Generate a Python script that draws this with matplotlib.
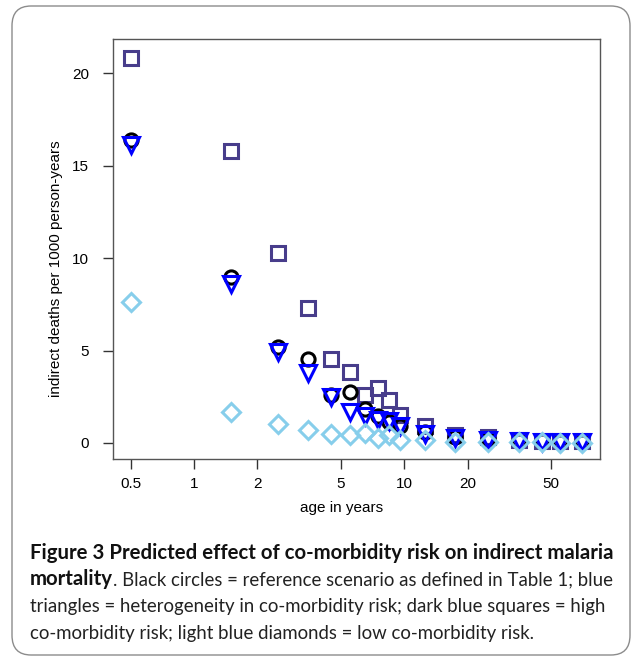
import numpy as np
import matplotlib
matplotlib.use("Agg")
import matplotlib.pyplot as plt
from matplotlib.patches import FancyBboxPatch

# age group midpoints (years)
ages = [0.5, 1.5, 2.5, 3.5, 4.5, 5.5, 6.5, 7.5, 8.5, 9.5, 12.5, 17.5, 25, 35, 45, 55, 70]

# indirect deaths per 1000 person-years
reference = [16.4, 9.0, 5.2, 4.55, 2.6, 2.75, 1.85, 1.45, 1.15, 0.9, 0.6, 0.3, 0.2, 0.1, 0.08, 0.07, 0.06]
heterogeneity = [16.1, 8.6, 4.9, 3.8, 2.5, 1.65, 1.45, 1.25, 1.2, 0.9, 0.5, 0.25, 0.15, 0.09, 0.07, 0.06, 0.05]
high_risk = [20.8, 15.8, 10.3, 7.3, 4.55, 3.85, 2.6, 3.0, 2.35, 1.5, 0.9, 0.42, 0.3, 0.15, 0.12, 0.1, 0.08]
low_risk = [7.6, 1.67, 1.05, 0.7, 0.5, 0.45, 0.55, 0.25, 0.45, 0.15, 0.15, 0.05, 0.04, 0.03, 0.03, 0.02, 0.02]

xticks = [0.5, 1, 2, 5, 10, 20, 50]
xtick_labels = ["0.5", "1", "2", "5", "10", "20", "50"]
yticks = [0, 5, 10, 15, 20]

W, H = 636, 657
fig = plt.figure(figsize=(W / 100, H / 100), dpi=100)
plt.rcParams['font.family'] = ['Liberation Sans', 'DejaVu Sans']

# outer rounded frame
frame = FancyBboxPatch((12 / W, 1 - 655 / H), 618 / W, 649 / H,
                       boxstyle="round,pad=0,rounding_size=0.03",
                       transform=fig.transFigure, fill=False,
                       edgecolor='#8c8c8c', linewidth=1.0)
fig.patches.append(frame)

ax = fig.add_axes([112.7 / W, 1 - 458.5 / H, (600 - 112.7) / W, (458.5 - 39) / H])

ax.plot(ages, high_risk, linestyle='none', marker='s', markersize=10,
        markerfacecolor='none', markeredgecolor='#483D8B', markeredgewidth=2.2)
ax.plot(ages, reference, linestyle='none', marker='o', markersize=9.5,
        markerfacecolor='none', markeredgecolor='black', markeredgewidth=2.2)
ax.plot(ages, heterogeneity, linestyle='none', marker='v', markersize=11,
        markerfacecolor='none', markeredgecolor='#0000FF', markeredgewidth=2.2)
ax.plot(ages, low_risk, linestyle='none', marker='D', markersize=9,
        markerfacecolor='none', markeredgecolor='#87CEEB', markeredgewidth=2.2)

ax.set_xscale('log')
lo, hi = np.log10(min(ages)), np.log10(max(ages))
pad = 0.04 * (hi - lo)
ax.set_xlim(10 ** (lo - pad), 10 ** (hi + pad))
ax.set_ylim(-0.84, 21.85)

ax.set_xticks(xticks)
ax.set_xticklabels(xtick_labels)
ax.xaxis.set_minor_locator(matplotlib.ticker.NullLocator())
ax.set_yticks(yticks)
ax.tick_params(axis='both', direction='out', length=7, width=1, labelsize=11, color='#333333')
ax.tick_params(axis='y', pad=10)
ax.tick_params(axis='x', pad=6)
for s in ax.spines.values():
    s.set_color('#555555')
    s.set_linewidth(1.0)

ax.set_xlabel('age in years', fontsize=11)
ax.set_ylabel('indirect deaths per 1000 person-years', fontsize=11)
ax.xaxis.set_label_coords((342 - 112.7) / (600 - 112.7), -(501 - 458.5) / (458.5 - 39))
ax.yaxis.set_label_coords(-(112.7 - 63) / (600 - 112.7), (458.5 - 269) / (458.5 - 39))

# caption
cap_font = ['Lato', 'DejaVu Sans']
bold_size = 14.7
reg_size = 13.4
x0 = 30 / W
lines_y = [559, 585, 612, 639]
fig.text(x0, 1 - lines_y[0] / H,
         'Figure 3 Predicted effect of co-morbidity risk on indirect malaria',
         fontsize=bold_size, fontweight='bold', family=cap_font, va='baseline', color='#111111')
t = fig.text(x0, 1 - lines_y[1] / H, 'mortality', fontsize=bold_size, fontweight='bold',
             family=cap_font, va='baseline', color='#111111')
renderer = fig.canvas.get_renderer()
bb = t.get_window_extent(renderer=renderer)
fig.text(bb.x1 / W, 1 - lines_y[1] / H,
         '. Black circles = reference scenario as defined in Table 1; blue',
         fontsize=reg_size, family=cap_font, va='baseline', color='#222222')
fig.text(x0, 1 - lines_y[2] / H,
         'triangles = heterogeneity in co-morbidity risk; dark blue squares = high',
         fontsize=reg_size, family=cap_font, va='baseline', color='#222222')
fig.text(x0, 1 - lines_y[3] / H,
         'co-morbidity risk; light blue diamonds = low co-morbidity risk.',
         fontsize=reg_size, family=cap_font, va='baseline', color='#222222')

fig.savefig('out.png', dpi=100)
